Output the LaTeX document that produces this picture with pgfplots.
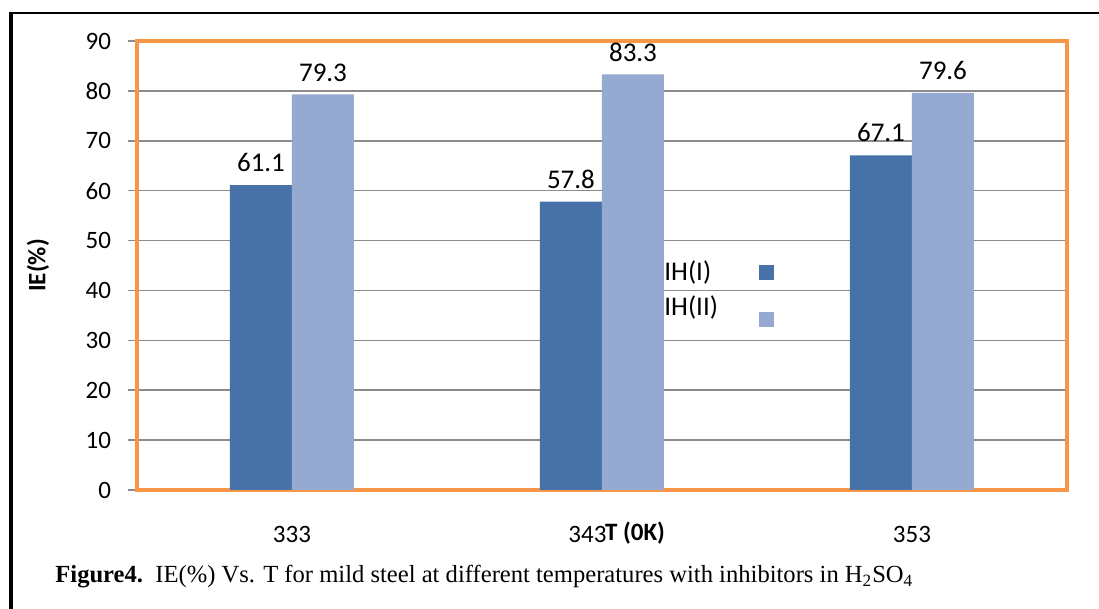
\documentclass[border=0pt]{standalone}
\usepackage{pgfplots}
\pgfplotsset{compat=1.18}
\usepackage{fontspec}
\setmainfont{Carlito}
\newfontfamily\timesfont{Liberation Serif}
\definecolor{barA}{HTML}{4672A8}
\definecolor{barB}{HTML}{95A9D1}
\definecolor{frameOr}{HTML}{F79646}
\definecolor{gridG}{HTML}{8C8C8C}
\newcommand{\cf}{\fontsize{12.5}{15}\selectfont}
\newcommand{\df}{\fontsize{13.5}{16}\selectfont}
\begin{document}
\begin{tikzpicture}
\begin{axis}[
  scale only axis, width=465pt, height=224.5pt,
  xmin=-0.5, xmax=2.5, ymin=0, ymax=90,
  ybar=0pt, bar width=31pt,
  xtick={0,1,2}, xticklabels={333,{343\hspace*{14.5pt}},353},
  ytick={0,10,...,90},
  ytick pos=left,
  major x tick style={draw=none},
  tick align=outside, major tick length=4.5pt,
  y tick style={gridG, line width=0.8pt},
  ymajorgrids, grid style={gridG, line width=0.8pt},
  axis line style={frameOr, line width=1.75pt},
  clip=false,
  tick label style={font=\cf},
  /pgf/number format/assume math mode=true,
  xticklabel style={yshift=-10pt},
  yticklabel style={xshift=-5pt},
  nodes near coords,
  every node near coord/.append style={font=\df, text=black, yshift=3pt},
  xlabel={\textbf{T (0K)}},
  ylabel={\textbf{IE(\%)}},
  every axis x label/.style={at={(axis description cs:0.5355,-0.0958)}, anchor=center, font=\cf},
  every axis y label/.style={at={(axis description cs:-0.1065,0.5)}, anchor=center, rotate=90, font=\cf},
  legend plot pos=right,
  legend cell align=left,
  legend style={at={(axis description cs:0.5624,0.52)}, anchor=north west, draw=none, fill=none, font=\df, inner sep=0pt, row sep=2pt},
  legend image code/.code={\path (0pt,0pt); \fill[#1] (18.5pt,-3.75pt) rectangle (26pt,3.75pt);},
]
\addplot[fill=barA, draw=none] coordinates {(0,61.1) (1,57.8) (2,67.1)};
\addplot[fill=barB, draw=none, legend image post style={yshift=-6pt}] coordinates {(0,79.3) (1,83.3) (2,79.6)};
\legend{IH(I), IH(II)}
\end{axis}
\node[anchor=base west, font=\timesfont\fontsize{12.3}{15}\selectfont, inner sep=0pt] at (-41pt,-46.5pt)
  {\textbf{Figure4.}\ \ IE(\%) Vs. T for mild steel at different temperatures with inhibitors in H\textsubscript{2}SO\textsubscript{4}};
\pgfresetboundingbox
\useasboundingbox (-68.5pt,-59.5pt) rectangle (481pt,245pt);
\draw[black, line width=1.25pt] (-63pt,238.5pt) -- (490pt,238.5pt);
\draw[black, line width=2pt] (-63pt,239.1pt) -- (-63pt,-70pt);
\end{tikzpicture}
\end{document}
